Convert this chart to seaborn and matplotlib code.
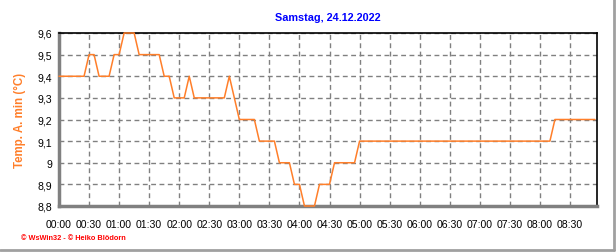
import matplotlib
matplotlib.use("Agg")
import matplotlib.pyplot as plt
import matplotlib.ticker as mticker
from matplotlib.lines import Line2D
import seaborn as sns
import pandas as pd

# Data: vertices of the trace (minutes since 00:00, temperature)
minutes = [0, 25, 30, 35, 40, 50, 55, 60, 65, 75, 80, 100, 105, 110, 115, 125,
           130, 135, 165, 170, 175, 180, 195, 200, 215, 220, 230, 235, 240, 245,
           255, 260, 270, 275, 295, 300, 490, 495, 535]
temps = [9.4, 9.4, 9.5, 9.5, 9.4, 9.4, 9.5, 9.5, 9.6, 9.6, 9.5, 9.5, 9.4, 9.4, 9.3, 9.3,
         9.4, 9.3, 9.3, 9.4, 9.3, 9.2, 9.2, 9.1, 9.1, 9.0, 9.0, 8.9, 8.9, 8.8,
         8.8, 8.9, 8.9, 9.0, 9.0, 9.1, 9.1, 9.2, 9.2]
x_tick_labels = ["00:00", "00:30", "01:00", "01:30", "02:00", "02:30", "03:00", "03:30",
                 "04:00", "04:30", "05:00", "05:30", "06:00", "06:30", "07:00", "07:30",
                 "08:00", "08:30"]
y_ticks = [8.8, 8.9, 9.0, 9.1, 9.2, 9.3, 9.4, 9.5, 9.6]
y_tick_labels = ["8,8", "8,9", "9", "9,1", "9,2", "9,3", "9,4", "9,5", "9,6"]
title = "Samstag, 24.12.2022"
ylabel = "Temp. A. min (°C)"
footer = "© WsWin32 - © Heiko Blödorn"

sns.set_style("white")
plt.rcParams['font.family'] = ['Liberation Sans', 'DejaVu Sans']

df = pd.DataFrame({"min": minutes, "temp": temps})

fig = plt.figure(figsize=(6.16, 2.53), dpi=100)
ax = fig.add_axes([59/616, 1-207/253, (597-59)/616, (207-34)/253])

sns.lineplot(data=df, x="min", y="temp", ax=ax, color="#ff7f2a", linewidth=1.1)
for ln in ax.lines:
    ln.set_zorder(4)
    ln.set_clip_on(False)

ax.set_xlim(0, 537)
ax.set_ylim(8.8, 9.6)
ax.set_xticks([30*i for i in range(len(x_tick_labels))])
ax.set_xticklabels(x_tick_labels)
ax.xaxis.set_minor_locator(mticker.MultipleLocator(10))
ax.set_yticks(y_ticks)
ax.set_yticklabels(y_tick_labels)

ax.grid(True, which="major", color="#808080", linestyle=(0, (3.5, 2.5)), linewidth=1.0)
ax.set_axisbelow(True)

ax.tick_params(axis="x", which="major", direction="out", length=4, width=1,
               color="#808080", labelsize=7.6, pad=5, labelcolor="black")
ax.tick_params(axis="x", which="minor", direction="out", length=2.5, width=1,
               color="#808080")
ax.tick_params(axis="y", which="major", direction="out", length=2, width=1,
               color="#808080", labelsize=7.6, pad=3, labelcolor="black")

for side in ["left", "bottom"]:
    ax.spines[side].set_color("#808080")
    ax.spines[side].set_linewidth(2.5)
for side in ["top", "right"]:
    ax.spines[side].set_color("black")
    ax.spines[side].set_linewidth(1.2)

ax.set_xlabel("")
ax.set_ylabel(ylabel, color="#ff7f2a", fontsize=8.3, fontweight="bold")
ax.yaxis.set_label_coords((26-59)/538, 0.5)
fig.text((59+597)/2/616, 1-18/253, title, color="#0000ff", fontsize=7.8,
         fontweight="bold", ha="center", va="center")
fig.text(21/616, 1-239/253, footer, color="#ff0000", fontsize=5.3, fontweight="bold",
         ha="left", va="center")

# figure outer border (gray right and bottom)
fig.add_artist(Line2D([614/616, 614/616], [1, 1-251/253], transform=fig.transFigure,
                      color="#a0a0a0", linewidth=2))
fig.add_artist(Line2D([0, 614/616], [1-251/253, 1-251/253], transform=fig.transFigure,
                      color="#a0a0a0", linewidth=2))

fig.savefig("out.png", dpi=100)
